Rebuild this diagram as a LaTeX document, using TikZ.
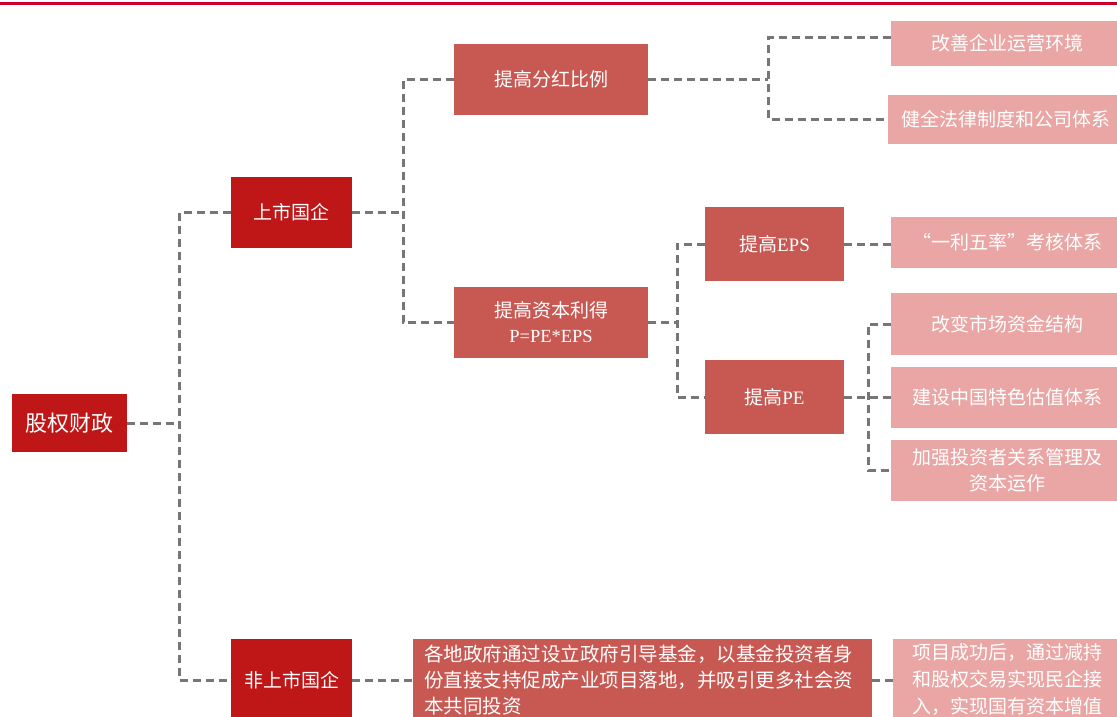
\documentclass[tikz,border=0pt]{standalone}
\usepackage{fontspec}
\setmainfont{Liberation Serif}
\newfontfamily\cjk{Noto Sans CJK SC}
\definecolor{darkred}{RGB}{191,22,24}
\definecolor{midred}{RGB}{200,88,82}
\definecolor{pinkbox}{RGB}{233,166,164}
\definecolor{topline}{RGB}{200,0,40}
\definecolor{conngray}{RGB}{118,118,118}
\tikzset{
  box/.style={rectangle, inner sep=0pt, text=white, font=\cjk\fontsize{19}{26}\selectfont, align=center},
  darkbox/.style={box, fill=darkred},
  midbox/.style={box, fill=midred},
  pinkb/.style={box, fill=pinkbox},
  conn/.style={draw=conngray, line width=3pt, dash pattern=on 8pt off 5pt}
}
\begin{document}
\begin{tikzpicture}[x=1pt,y=-1pt]
\useasboundingbox (0,0) rectangle (1117,717);
\clip (0,0) rectangle (1117,717);
\fill[white] (0,0) rectangle (1117,717);
\draw[topline, line width=3pt] (0,4) -- (1117,4);

% level 0
\node[darkbox, minimum width=115, minimum height=58, font=\cjk\fontsize{22}{26}\selectfont] (root) at (69.5,423) {股权财政};
% level 1
\node[darkbox, minimum width=121, minimum height=71] (ss) at (291.5,212.5) {上市国企};
\node[darkbox, minimum width=121, minimum height=82] (fs) at (291.5,680) {非上市国企};
% level 2
\node[midbox, minimum width=194, minimum height=71] (b1) at (551,79.5) {提高分红比例};
\node[midbox, minimum width=194, minimum height=71, font=\cjk\fontsize{19}{26}\selectfont] (b2) at (551,322.5) {提高资本利得\\[-1pt]{\rmfamily\fontsize{18.5}{20}\selectfont P=PE*EPS}};
\node[midbox, minimum width=459, minimum height=82, text width=437, align=left, font=\cjk\fontsize{19.5}{26}\selectfont] (lb) at (642.5,680) {各地政府通过设立政府引导基金，以基金投资者身\\份直接支持促成产业项目落地，并吸引更多社会资\\本共同投资};
% level 3
\node[midbox, minimum width=139, minimum height=74] (e1) at (774.5,244) {提高{\rmfamily EPS}};
\node[midbox, minimum width=139, minimum height=74] (e2) at (774.5,397) {提高{\rmfamily PE}};
% leaves
\node[pinkb, minimum width=233, minimum height=45] (p1) at (1007.5,43.5) {改善企业运营环境};
\node[pinkb, minimum width=236, minimum height=49] (p2) at (1006,119.5) {健全法律制度和公司体系};
\node[pinkb, minimum width=233, minimum height=51] (p3) at (1007.5,242.5) {“一利五率”考核体系};
\node[pinkb, minimum width=233, minimum height=62] (p4) at (1007.5,324) {改变市场资金结构};
\node[pinkb, minimum width=233, minimum height=61] (p5) at (1007.5,397.5) {建设中国特色估值体系};
\node[pinkb, minimum width=233, minimum height=61] (p6) at (1007.5,470.5) {加强投资者关系管理及\\资本运作};
\node[pinkb, minimum width=229, minimum height=82, font=\cjk\fontsize{19}{27}\selectfont] (pb) at (1007.5,680) {项目成功后，通过减持\\和股权交易实现民企接\\入，实现国有资本增值};

% junctions
\coordinate (j0) at (179,423);
\coordinate (j1) at (403,212.5);
\coordinate (j2) at (768,79.5);
\coordinate (j3) at (677,322.5);
\coordinate (j4) at (868,397);

% connectors
\draw[conn] (root.east) -- (j0);
\draw[conn] (ss.west) -| (j0) |- (fs.west);
\draw[conn] (ss.east) -- (j1);
\draw[conn] (b1.west) -| (j1) |- (b2.west);
\draw[conn] (b1.east) -- (j2);
\draw[conn] ([yshift=5.5pt]p1.west) -| (j2) |- (p2.west);
\draw[conn] (b2.east) -- (j3);
\draw[conn] (e1.west) -| (j3) |- (e2.west);
\draw[conn] (e1.east) -- (e1.east -| p3.west);
\draw[conn] (e2.east) -- (e2.east -| p5.west);
\draw[conn] (p4.west) -| (j4) |- (p6.west);
\draw[conn] (fs.east) -- (fs.east -| lb.west);
\draw[conn] (lb.east) -- (lb.east -| pb.west);
\end{tikzpicture}
\end{document}
